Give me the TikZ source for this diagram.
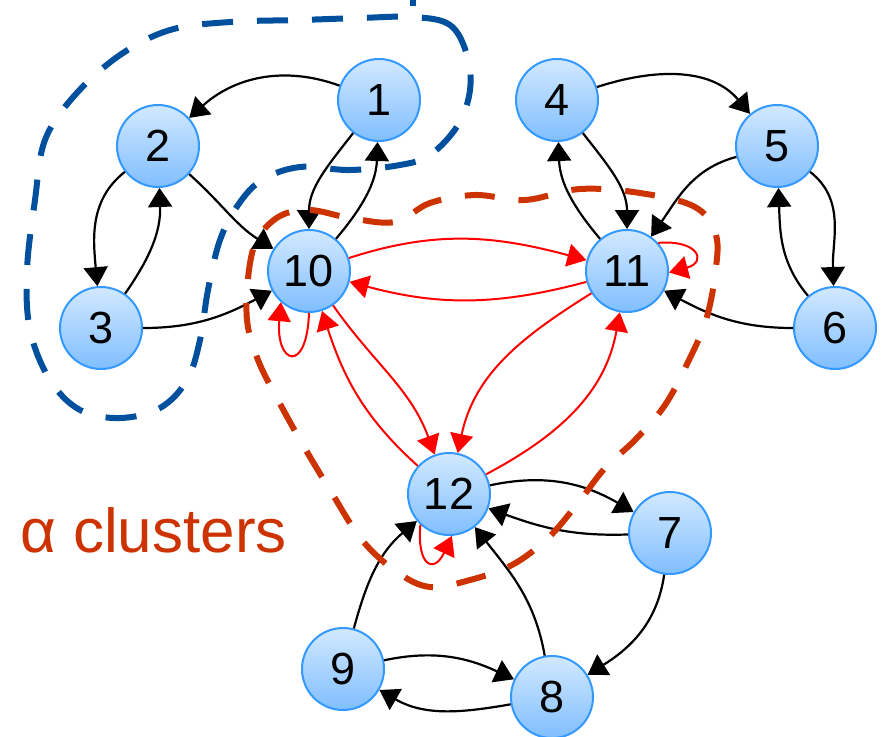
\documentclass[tikz,border=0pt]{standalone}
\usepackage{fontspec}
\setmainfont{Liberation Sans}
\usetikzlibrary{arrows.meta}
\definecolor{ntop}{RGB}{210,233,255}
\definecolor{nbot}{RGB}{128,190,255}
\definecolor{nborder}{RGB}{51,153,255}
\definecolor{cblue}{RGB}{0,80,158}
\definecolor{corange}{RGB}{204,51,0}
\definecolor{ered}{RGB}{255,0,0}
\tikzset{
  vtx/.style={circle, minimum size=82pt, inner sep=0pt, draw=nborder, line width=2pt,
    top color=ntop, bottom color=nbot, font=\fontsize{45}{50}\selectfont},
  blk/.style={draw=black, line width=2.2pt, -{Triangle[length=19pt,width=24pt]}},
  rd/.style={draw=ered, line width=2pt, -{Triangle[length=19pt,width=23pt]}},
  clblue/.style={draw=cblue, line width=6pt, dash pattern=on 31pt off 24pt},
  clred/.style={draw=corange, line width=6pt, dash pattern=on 30pt off 24pt},
}
\begin{document}
\begin{tikzpicture}[x=1pt,y=1pt]
\useasboundingbox (0,0) rectangle (882,-736);
% nodes
\node[vtx] (n1) at (379,-100) {1};
\node[vtx] (n2) at (158,-146) {2};
\node[vtx] (n3) at (101,-328) {3};
\node[vtx] (n4) at (557,-100) {4};
\node[vtx] (n5) at (777,-146) {5};
\node[vtx] (n6) at (835,-328) {6};
\node[vtx] (n10) at (309,-271) {10};
\node[vtx] (n11) at (627,-271) {11};
\node[vtx] (n12) at (449,-494) {12};
\node[vtx] (n7) at (670,-533) {7};
\node[vtx] (n8) at (552,-697) {8};
\node[vtx] (n9) at (343,-669) {9};
% black edges
\draw[blk] (n1) to[out=160,in=42] (n2);
\draw[blk] (n1) to[out=232,in=90] (n10);
\draw[blk] (n10) to[out=50,in=268] (n1);
\draw[blk] (n2) to[out=218,in=95] (n3);
\draw[blk] (n3) to[out=55,in=272] (n2);
\draw[blk] (n2) to[out=-42,in=148] (n10);
\draw[blk] (n3) to[out=0,in=208] (n10);
\draw[blk] (n4) to[out=18,in=130] (n5);
\draw[blk] (n4) to[out=-52,in=90] (n11);
\draw[blk] (n11) to[out=130,in=272] (n4);
\draw[blk] (n5) to[out=195,in=55] (n11);
\draw[blk] (n5) to[out=-38,in=92] (n6);
\draw[blk] (n6) to[out=130,in=272] (n5);
\draw[blk] (n6) to[out=180,in=-28] (n11);
\draw[blk] (n12) to[out=12,in=150] (n7);
\draw[blk] (n7) to[out=182,in=-20] (n12);
\draw[blk] (n7) to[out=-98,in=32] (n8);
\draw[blk] (n8) to[out=100,in=-52] (n12);
\draw[blk] (n9) to[out=75,in=-140] (n12);
\draw[blk] (n9) to[out=12,in=155] (n8);
\draw[blk] (n8) to[out=190,in=-30] (n9);
% red edges
\draw[rd] (n10) to[out=18,in=165] (n11);
\draw[rd] (n11) to[out=195,in=-15] (n10);
\draw[rd] (n10) to[out=-55,in=110] (n12);
\draw[rd] (n12) to[out=138,in=-72] (n10);
\draw[rd] (n11) to[out=212,in=78] (n12);
\draw[rd] (n12) to[out=28,in=-100] (n11);
\draw[rd] (n10.-90) to[out=-92,in=-95,distance=62pt] (n10.-132);
\draw[rd] (n11.42) to[out=5,in=15,distance=40pt] (n11.-2);
\draw[rd] (n12.-133) to[out=-95,in=-115,distance=42pt] (n12.-86);
% clusters
\draw[clblue] plot[smooth cycle, tension=0.6] coordinates {
 (413,-17) (450,-25) (467,-55) (470,-90) (458,-125) (430,-155) (400,-165) (350,-170)
 (300,-167) (262,-180) (238,-205) (220,-240) (208,-290) (200,-340) (187,-380)
 (160,-408) (120,-418) (80,-410) (50,-380) (30,-330) (27,-270) (35,-200) (45,-140)
 (75,-95) (120,-55) (170,-30) (230,-22) (300,-20) (360,-18)};
\draw[draw=cblue, line width=6pt] (413,0) -- (413,-6);
\draw[clred] plot[smooth cycle, tension=0.6] coordinates {
 (280,-216) (310,-210) (350,-218) (395,-222) (430,-203) (475,-195) (525,-200)
 (580,-189) (640,-193) (695,-207) (716,-235) (715,-275) (706,-320) (689,-360)
 (665,-405) (635,-440) (605,-468) (578,-503) (548,-538) (512,-565) (470,-580)
 (430,-587) (397,-572) (362,-540) (330,-490) (303,-445) (278,-400) (258,-360)
 (247,-320) (249,-270) (258,-238)};
% label
\node[anchor=base west, inner sep=0pt, text=corange, font=\fontsize{62}{70}\selectfont] (lab) at (20,-552) {α clusters};
\end{tikzpicture}
\end{document}
